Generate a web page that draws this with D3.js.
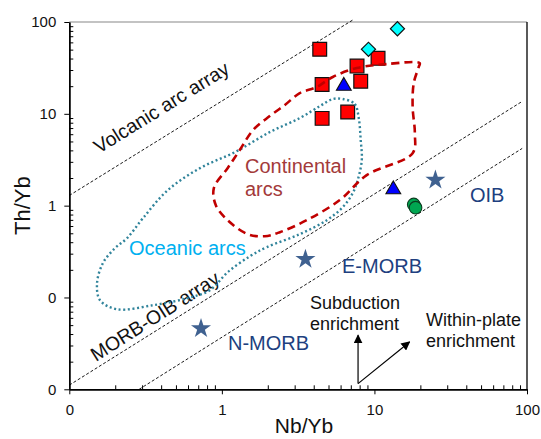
<!DOCTYPE html>
<html>
<head>
<meta charset="utf-8">
<script src="https://cdn.jsdelivr.net/npm/d3@7"></script>
<style>
  body { margin: 0; background: #fff; }
  text { font-family: "Liberation Sans", Arial, sans-serif; }
</style>
</head>
<body>
<div id="chart"></div>
<script>
// Th/Yb vs Nb/Yb discrimination diagram
const xTickValues = [0.1, 1, 10, 100];
const xTickLabels = ["0", "1", "10", "100"];
const yTickValues = [0.01, 0.1, 1, 10, 100];
const yTickLabels = ["0", "0", "1", "10", "100"];

// samples [Nb/Yb, Th/Yb]
const redSquares = [[4.38, 50.4], [10.56, 40.2], [7.69, 33.1], [4.54, 20.9], [8.13, 22.6], [4.54, 8.92], [6.68, 10.45]];
const blueTriangles = [[6.3, 20.1], [13.3, 1.5]];
const cyanDiamonds = [[14.15, 84.5], [9.14, 50.4]];
const greenCircles = [[18.1, 1.03], [18.6, 0.95]];
const refNames = ["N-MORB", "E-MORB", "OIB"];
const refNb = [0.73, 3.53, 25.1];
const refTh = [0.046, 0.261, 1.9];

// array lines
const volcanicArray = [[0.1, 1.29], [7.2, 105]];
const morbUpper = [[0.1, 0.0111], [92, 13.5]];
const morbLower = [[0.287, 0.01], [93, 4.2]];

// fields
const continentalArcs = [[19.8, 35.7], [12.0, 34.8], [7.66, 31.5], [5.33, 25.2], [4.19, 19.6], [3.24, 16.8], [2.59, 12.5],
  [2.06, 9.45], [1.6, 6.65], [1.31, 4.03], [1.09, 2.56], [0.886, 1.55], [0.913, 1.01], [1.09, 0.695], [1.48, 0.489],
  [1.91, 0.465], [2.4, 0.514], [3.6, 0.695], [5.93, 1.15], [8.9, 2.15], [17.8, 3.73], [18.4, 6.17], [17.8, 11.8],
  [18.1, 21.6], [19.5, 32.3]];
const oceanicArcs = [[6.2, 14.5], [7.43, 12.8], [7.89, 8.99], [8.13, 5.18], [8.26, 3.13], [7.77, 1.9], [7.21, 1.37],
  [6.2, 0.963], [4.87, 0.695], [3.24, 0.489], [1.97, 0.353], [1.53, 0.282], [1.09, 0.188], [0.835, 0.12], [0.59, 0.098],
  [0.353, 0.0823], [0.205, 0.0745], [0.159, 0.0933], [0.152, 0.143], [0.166, 0.236], [0.199, 0.344], [0.239, 0.442],
  [0.304, 0.731], [0.443, 1.48], [0.718, 2.56], [1.22, 3.83], [2.06, 6.32], [3.24, 8.99], [4.38, 12.1], [5.33, 14.5]];

// enrichment vectors
const arrowOrigin = [7.81, 0.01153];
const subductionTip = [7.81, 0.0388];
const withinPlateTip = [17.0, 0.0328];

const W = 541, H = 439;
const mLeft = 69.3, mRight = 527, mTop = 22, mBottom = 389.3;

const svg = d3.select("#chart").append("svg")
  .attr("width", W)
  .attr("height", H);

const x = d3.scaleLog().domain([0.1, 100]).range([mLeft, mRight]);
const y = d3.scaleLog().domain([0.01, 100]).range([mBottom, mTop]);

const minorX = x.ticks().filter(d => !xTickValues.some(v => Math.abs(v - d) < 1e-9));
const minorY = y.ticks().filter(d => !yTickValues.some(v => Math.abs(v - d) < 1e-9));

// frame: top grey, right black
svg.append("line").attr("x1", mLeft).attr("x2", mRight).attr("y1", mTop).attr("y2", mTop)
  .attr("stroke", "#888").attr("stroke-width", 1.2);
svg.append("line").attr("x1", mRight).attr("x2", mRight).attr("y1", mTop).attr("y2", mBottom)
  .attr("stroke", "#000").attr("stroke-width", 1.3);

// axes
const gx = svg.append("g").attr("transform", `translate(0,${mBottom})`);
gx.call(d3.axisBottom(x).tickValues(xTickValues).tickSize(5).tickSizeOuter(0)
  .tickFormat((d, i) => xTickLabels[i]));
gx.append("g").call(d3.axisBottom(x).tickValues(minorX).tickSize(-4).tickSizeOuter(0).tickFormat(""));
const gy = svg.append("g").attr("transform", `translate(${mLeft},0)`);
gy.call(d3.axisLeft(y).tickValues(yTickValues).tickSize(5).tickSizeOuter(0)
  .tickFormat((d, i) => yTickLabels[i]));
gy.append("g").call(d3.axisLeft(y).tickValues(minorY).tickSize(-4).tickSizeOuter(0).tickFormat(""));

svg.selectAll(".domain").attr("stroke", "#000").attr("stroke-width", 1.4);
svg.selectAll(".tick line").attr("stroke", "#000").attr("stroke-width", 1);
svg.selectAll(".tick text").attr("font-family", "Liberation Sans, Arial, sans-serif")
  .attr("font-size", 15).attr("fill", "#111");
gx.selectAll(".tick text").attr("dy", "1.15em");
gy.selectAll(".tick text").attr("x", -13);

// axis titles
svg.append("text").attr("x", 304).attr("y", 433).attr("text-anchor", "middle")
  .attr("font-size", 21).attr("fill", "#111").text("Nb/Yb");
svg.append("text").attr("transform", `translate(30,${(mTop + mBottom) / 2}) rotate(-90)`)
  .attr("text-anchor", "middle").attr("font-size", 22).attr("fill", "#111").text("Th/Yb");

// array lines
const line = d3.line().x(d => x(d[0])).y(d => y(d[1]));
[volcanicArray, morbUpper, morbLower].forEach(l => {
  svg.append("path").attr("d", line(l)).attr("fill", "none")
    .attr("stroke", "#000").attr("stroke-width", 0.9).attr("stroke-dasharray", "3,2");
});

function angleOf(l) {
  return Math.atan2(y(l[1][1]) - y(l[0][1]), x(l[1][0]) - x(l[0][0])) * 180 / Math.PI;
}
svg.append("text").attr("transform", `translate(99,154) rotate(${angleOf(volcanicArray)})`)
  .attr("font-size", 19.5).attr("fill", "#111").text("Volcanic arc array");
svg.append("text").attr("transform", `translate(96,362) rotate(${angleOf(morbUpper) - 0.5})`)
  .attr("font-size", 19.5).attr("fill", "#111").text("MORB-OIB array");

// markers
const sym = (type, size) => d3.symbol().type(type).size(size)();
const pt = d => `translate(${x(d[0])},${y(d[1])})`;

svg.selectAll(".sq").data(redSquares).enter().append("path")
  .attr("d", sym(d3.symbolSquare, 190)).attr("transform", pt)
  .attr("fill", "#ff0000").attr("stroke", "#111").attr("stroke-width", 1.2);
svg.selectAll(".dm").data(cyanDiamonds).enter().append("path")
  .attr("d", sym(d3.symbolSquare, 100)).attr("transform", d => pt(d) + " rotate(45)")
  .attr("fill", "#00ffff").attr("stroke", "#111").attr("stroke-width", 1.2);
svg.selectAll(".tr").data(blueTriangles).enter().append("path")
  .attr("d", sym(d3.symbolTriangle, 95)).attr("transform", pt)
  .attr("fill", "#0000ff").attr("stroke", "#111").attr("stroke-width", 1.1);
svg.selectAll(".ci").data(greenCircles).enter().append("circle")
  .attr("cx", d => x(d[0])).attr("cy", d => y(d[1])).attr("r", 6.3)
  .attr("fill", "#00a651").attr("stroke", "#0b3d1f").attr("stroke-width", 1.1);
svg.selectAll(".st").data(refNb).enter().append("path")
  .attr("d", sym(d3.symbolStar, 125)).attr("transform", (d, i) => pt([d, refTh[i]]))
  .attr("fill", "#3f6190");

// fields
const field = d3.line().x(d => x(d[0])).y(d => y(d[1])).curve(d3.curveCatmullRomClosed.alpha(0.5));
svg.append("path").attr("d", field(oceanicArcs)).attr("fill", "none")
  .attr("stroke", "#31849b").attr("stroke-width", 2.4).attr("stroke-dasharray", "2,2.6");
svg.append("path").attr("d", field(continentalArcs)).attr("fill", "none")
  .attr("stroke", "#c00000").attr("stroke-width", 2.6).attr("stroke-dasharray", "8,5");

// field labels
svg.append("text").attr("x", 245).attr("y", 173).attr("font-size", 20).attr("fill", "#a33a3a").text("Continental");
svg.append("text").attr("x", 245).attr("y", 196).attr("font-size", 20).attr("fill", "#a33a3a").text("arcs");
svg.append("text").attr("x", 129).attr("y", 255).attr("font-size", 20).attr("fill", "#00b0f0").text("Oceanic arcs");

const refLabelPos = [[228, 350], [342, 273], [470, 202]];
refNames.forEach((n, i) => {
  svg.append("text").attr("x", refLabelPos[i][0]).attr("y", refLabelPos[i][1])
    .attr("font-size", 20).attr("fill", "#203f7f").text(n);
});

// enrichment arrows
const defs = svg.append("defs");
defs.append("marker").attr("id", "ah").attr("viewBox", "0 0 10 10").attr("refX", 9).attr("refY", 5)
  .attr("markerWidth", 9).attr("markerHeight", 9).attr("markerUnits", "userSpaceOnUse").attr("orient", "auto")
  .append("path").attr("d", "M0,0L10,5L0,10z").attr("fill", "#000");
[subductionTip, withinPlateTip].forEach(t => {
  svg.append("line").attr("x1", x(arrowOrigin[0])).attr("y1", y(arrowOrigin[1]))
    .attr("x2", x(t[0])).attr("y2", y(t[1]))
    .attr("stroke", "#000").attr("stroke-width", 1.2).attr("marker-end", "url(#ah)");
});
svg.append("text").attr("x", 310).attr("y", 309).attr("font-size", 18).attr("fill", "#111").text("Subduction");
svg.append("text").attr("x", 310).attr("y", 330).attr("font-size", 18).attr("fill", "#111").text("enrichment");
svg.append("text").attr("x", 426).attr("y", 326).attr("font-size", 18).attr("fill", "#111").text("Within-plate");
svg.append("text").attr("x", 426).attr("y", 347).attr("font-size", 18).attr("fill", "#111").text("enrichment");
</script>
</body>
</html>
